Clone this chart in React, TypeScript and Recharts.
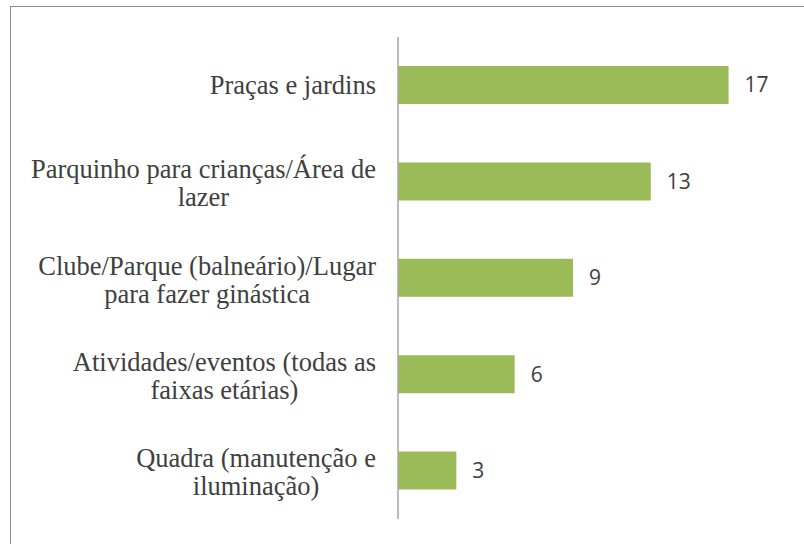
import React from 'react';
import { BarChart, Bar, XAxis, YAxis, LabelList } from 'recharts';

const categories = [
  'Praças e jardins',
  'Parquinho para crianças/Área de\nlazer',
  'Clube/Parque (balneário)/Lugar\npara fazer ginástica',
  'Atividades/eventos (todas as\nfaixas etárias)',
  'Quadra (manutenção e\niluminação)',
];
const values = [17, 13, 9, 6, 3];
const data = categories.map((c, i) => ({ name: c, value: values[i] }));

const SERIF = "'Liberation Serif', 'Times New Roman', serif";
const FONT_SIZE = 26.5;
const LINE_H = 28;

let ctx: CanvasRenderingContext2D | null = null;
function measure(s: string): number {
  if (!ctx) {
    const c = document.createElement('canvas');
    ctx = c.getContext('2d');
  }
  if (!ctx) return s.length * 11;
  ctx.font = `${FONT_SIZE}px ${SERIF}`;
  return ctx.measureText(s).width;
}

const CategoryTick = (props: any) => {
  const { x, y, payload } = props;
  const lines = String(payload.value).split('\n');
  const w = Math.max(...lines.map(measure));
  const right = x - 14;
  const cx = right - w / 2;
  const startY = y + (lines.length > 1 ? 1.5 : -0.5) - ((lines.length - 1) * LINE_H) / 2;
  return (
    <g>
      {lines.map((ln, i) => (
        <text
          key={i}
          x={cx}
          y={startY + i * LINE_H}
          textAnchor="middle"
          dominantBaseline="central"
          style={{ fontFamily: SERIF, fontSize: FONT_SIZE, fill: '#404040' }}
        >
          {ln}
        </text>
      ))}
    </g>
  );
};

export default function App() {
  return (
    <div style={{ position: 'absolute', left: 0, top: 0, width: 804, height: 544, overflow: 'hidden', background: '#fff' }}>
      <div
        style={{
          position: 'absolute',
          left: 10,
          top: 6,
          width: 900,
          height: 700,
          border: '1px solid #8c8c8c',
          boxSizing: 'border-box',
        }}
      />
      <div style={{ position: 'absolute', left: 0, top: 0 }}>
        <BarChart
          width={804}
          height={544}
          data={data}
          layout="vertical"
          margin={{ top: 37, right: 56, bottom: 25, left: 0 }}
        >
          <XAxis type="number" domain={[0, 18]} hide />
          <YAxis
            type="category"
            dataKey="name"
            width={398}
            axisLine={{ stroke: '#a6a6a6', strokeWidth: 1.5 }}
            tickLine={false}
            tick={<CategoryTick />}
            interval={0}
          />
          <Bar dataKey="value" fill="#9BBB59" barSize={38} isAnimationActive={false}>
            <LabelList
              dataKey="value"
              position="right"
              offset={16}
              fill="#404040"
              fontFamily="'Open Sans', sans-serif"
              fontSize={21}
            />
          </Bar>
        </BarChart>
      </div>
    </div>
  );
}
